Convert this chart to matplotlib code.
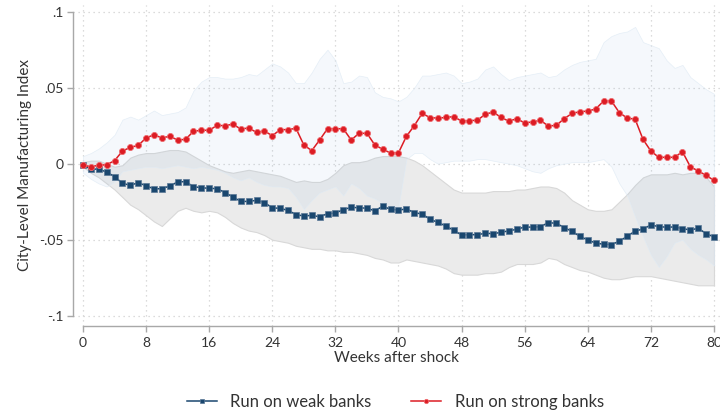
import numpy as np
import matplotlib
matplotlib.use("Agg")
import matplotlib.pyplot as plt

plt.rcParams['font.family'] = ['Lato', 'DejaVu Sans']

weeks = np.arange(81)

# point estimates
weak = [-0.001, -0.0035, -0.0036, -0.0055, -0.0085, -0.0129, -0.0142, -0.0125, -0.0145, -0.0166,
        -0.0164, -0.0147, -0.012, -0.0118, -0.0151, -0.0158, -0.0162, -0.0164, -0.019, -0.0219,
        -0.0248, -0.0248, -0.0241, -0.0256, -0.029, -0.0294, -0.0307, -0.0335, -0.0344, -0.034,
        -0.0349, -0.0329, -0.0325, -0.0302, -0.0287, -0.029, -0.0293, -0.031, -0.028, -0.030,
        -0.0305, -0.0298, -0.0322, -0.0331, -0.0366, -0.0386, -0.041, -0.0438, -0.0469, -0.0467,
        -0.0467, -0.0458, -0.046, -0.0452, -0.0441, -0.0432, -0.0416, -0.0418, -0.0414, -0.0388,
        -0.0392, -0.042, -0.0445, -0.0478, -0.0502, -0.0522, -0.053, -0.0532, -0.051, -0.0478,
        -0.0443, -0.043, -0.0403, -0.0414, -0.0418, -0.0416, -0.0427, -0.0436, -0.0425, -0.046,
        -0.0482]
strong = [-0.001, -0.002, -0.001, -0.0007, 0.002, 0.0083, 0.0108, 0.012, 0.017, 0.019,
          0.017, 0.018, 0.0156, 0.016, 0.0213, 0.022, 0.022, 0.0252, 0.025, 0.026,
          0.0228, 0.0235, 0.0206, 0.0215, 0.0184, 0.0224, 0.0224, 0.0233, 0.0123, 0.0086,
          0.0156, 0.023, 0.023, 0.023, 0.0156, 0.020, 0.020, 0.0123, 0.0095, 0.007,
          0.0072, 0.018, 0.025, 0.0331, 0.0303, 0.030, 0.0304, 0.031, 0.028, 0.0283,
          0.0286, 0.0325, 0.034, 0.0304, 0.028, 0.0296, 0.0268, 0.0275, 0.0285, 0.0248,
          0.0252, 0.0296, 0.0331, 0.0342, 0.0346, 0.036, 0.0412, 0.0412, 0.0336, 0.030,
          0.0293, 0.016, 0.0083, 0.0042, 0.0042, 0.0042, 0.0079, -0.002, -0.0048, -0.0077,
          -0.011]

# confidence bands
weak_hi = [0.001, 0.002, 0.002, 0.000, -0.002, -0.001, 0.004, 0.006, 0.007, 0.007,
           0.008, 0.009, 0.009, 0.008, 0.005, 0.002, -0.001, -0.003, -0.005, -0.006,
           -0.005, -0.004, -0.005, -0.006, -0.007, -0.008, -0.010, -0.012, -0.011, -0.012,
           -0.012, -0.010, -0.006, -0.001, 0.001, 0.001, 0.002, 0.004, 0.005, 0.005,
           0.005, 0.004, 0.002, -0.001, -0.005, -0.009, -0.013, -0.017, -0.019, -0.019,
           -0.019, -0.019, -0.018, -0.018, -0.018, -0.017, -0.017, -0.016, -0.015, -0.015,
           -0.016, -0.019, -0.024, -0.027, -0.030, -0.031, -0.031, -0.030, -0.025, -0.020,
           -0.014, -0.009, -0.007, -0.007, -0.007, -0.006, -0.007, -0.006, -0.006, -0.009,
           -0.015]
weak_lo = [-0.002, -0.006, -0.009, -0.013, -0.017, -0.022, -0.027, -0.030, -0.034, -0.038,
           -0.041, -0.036, -0.031, -0.029, -0.031, -0.032, -0.031, -0.032, -0.035, -0.039,
           -0.042, -0.044, -0.045, -0.047, -0.050, -0.051, -0.052, -0.054, -0.055, -0.056,
           -0.056, -0.057, -0.057, -0.058, -0.058, -0.059, -0.060, -0.062, -0.063, -0.065,
           -0.065, -0.063, -0.064, -0.065, -0.066, -0.067, -0.069, -0.072, -0.073, -0.073,
           -0.073, -0.072, -0.072, -0.071, -0.068, -0.066, -0.066, -0.066, -0.065, -0.062,
           -0.063, -0.066, -0.068, -0.070, -0.071, -0.073, -0.075, -0.076, -0.076, -0.075,
           -0.074, -0.074, -0.074, -0.075, -0.076, -0.077, -0.078, -0.079, -0.080, -0.080,
           -0.080]
strong_hi = [0.005, 0.007, 0.010, 0.014, 0.019, 0.029, 0.031, 0.029, 0.032, 0.035,
             0.032, 0.033, 0.034, 0.037, 0.048, 0.054, 0.057, 0.057, 0.056, 0.056,
             0.057, 0.059, 0.058, 0.062, 0.066, 0.064, 0.060, 0.053, 0.053, 0.060,
             0.069, 0.075, 0.068, 0.053, 0.054, 0.058, 0.057, 0.047, 0.044, 0.043,
             0.041, 0.044, 0.050, 0.058, 0.058, 0.059, 0.060, 0.058, 0.053, 0.054,
             0.056, 0.062, 0.064, 0.059, 0.055, 0.057, 0.058, 0.059, 0.060, 0.057,
             0.058, 0.062, 0.065, 0.067, 0.068, 0.069, 0.080, 0.084, 0.086, 0.087,
             0.090, 0.080, 0.078, 0.076, 0.068, 0.063, 0.065, 0.057, 0.053, 0.049,
             0.046]
strong_lo = [-0.006, -0.010, -0.013, -0.015, -0.012, -0.005, -0.004, -0.003, -0.002, -0.002,
             -0.003, -0.002, -0.001, -0.002, -0.003, -0.002, -0.003, -0.004, -0.006, -0.009,
             -0.011, -0.009, -0.012, -0.014, -0.015, -0.015, -0.016, -0.022, -0.030, -0.024,
             -0.019, -0.017, -0.015, -0.021, -0.013, -0.016, -0.021, -0.023, -0.026, -0.028,
             -0.028, 0.003, 0.007, 0.007, 0.003, 0.000, 0.001, 0.002, 0.002, 0.002,
             0.003, 0.003, 0.002, 0.001, 0.000, -0.001, -0.003, -0.005, -0.006, -0.003,
             -0.001, 0.000, 0.001, 0.001, 0.001, 0.002, 0.003, -0.002, -0.013, -0.021,
             -0.035, -0.048, -0.060, -0.068, -0.061, -0.052, -0.050, -0.056, -0.060, -0.063,
             -0.067]

xticks = list(range(0, 81, 8))
yticks = [-0.1, -0.05, 0, 0.05, 0.1]
ytick_labels = ['-.1', '-.05', '0', '.05', '.1']

navy = '#1a476f'
red = '#dc1c24'
axis_grey = '#a8a8a8'
text_col = '#333333'

fig = plt.figure(figsize=(7.2, 4.13), dpi=100)
ax = fig.add_axes([73 / 720, 1 - 325.7 / 413, 647 / 720, (325.7 - 5) / 413])

ax.fill_between(weeks, weak_lo, weak_hi, color='#ebebeb', edgecolor='#d8d8d8',
                linewidth=0.8, zorder=1)
ax.fill_between(weeks, strong_lo, strong_hi, facecolor=(145 / 255, 185 / 255, 225 / 255, 0.09),
                edgecolor=(0.88, 0.92, 0.96, 0.8), linewidth=0.5, zorder=2)

ax.plot(weeks, weak, color=navy, marker='s', markersize=4.6, linewidth=1.1,
        markeredgecolor='#5a7896', markeredgewidth=0.5, label='Run on weak banks', zorder=4)
ax.plot(weeks, strong, color=red, marker='o', markersize=4.4, linewidth=1.1,
        markeredgecolor='#ee6a6e', markeredgewidth=0.6, label='Run on strong banks', zorder=5)

ax.set_xlim(-10 / 7.8875, 80 + 6 / 7.8875)
ax.set_ylim(-0.1 - 10 / 1520, 0.1 + 6.7 / 1520)

ax.set_xticks(xticks)
ax.set_yticks(yticks)
ax.set_yticklabels(ytick_labels)
ax.grid(True, color='#d0d0d0', linestyle=(0, (1, 3)), linewidth=0.9)
ax.set_axisbelow(True)

for s in ['top', 'right']:
    ax.spines[s].set_visible(False)
ax.spines['left'].set_bounds(-0.1, 0.1)
ax.spines['bottom'].set_bounds(0, 80)
for s in ['left', 'bottom']:
    ax.spines[s].set_color(axis_grey)
    ax.spines[s].set_linewidth(1.0)

ax.tick_params(axis='both', colors=axis_grey, length=4, width=1.0, labelcolor=text_col,
               labelsize=10)
ax.tick_params(axis='x', pad=4)
ax.tick_params(axis='y', pad=3)

ax.set_xlabel('Weeks after shock', fontsize=11, color=text_col, labelpad=1.5)
ax.set_ylabel('City-Level Manufacturing Index', fontsize=11, color=text_col, labelpad=5)

fig.legend(loc='center', bbox_to_anchor=(0.549, 0.027), ncol=2, frameon=False,
           fontsize=12, handlelength=1.8, columnspacing=2.4, handletextpad=0.8,
           labelcolor=text_col, markerscale=0.7)

fig.savefig('out.png', dpi=100)
